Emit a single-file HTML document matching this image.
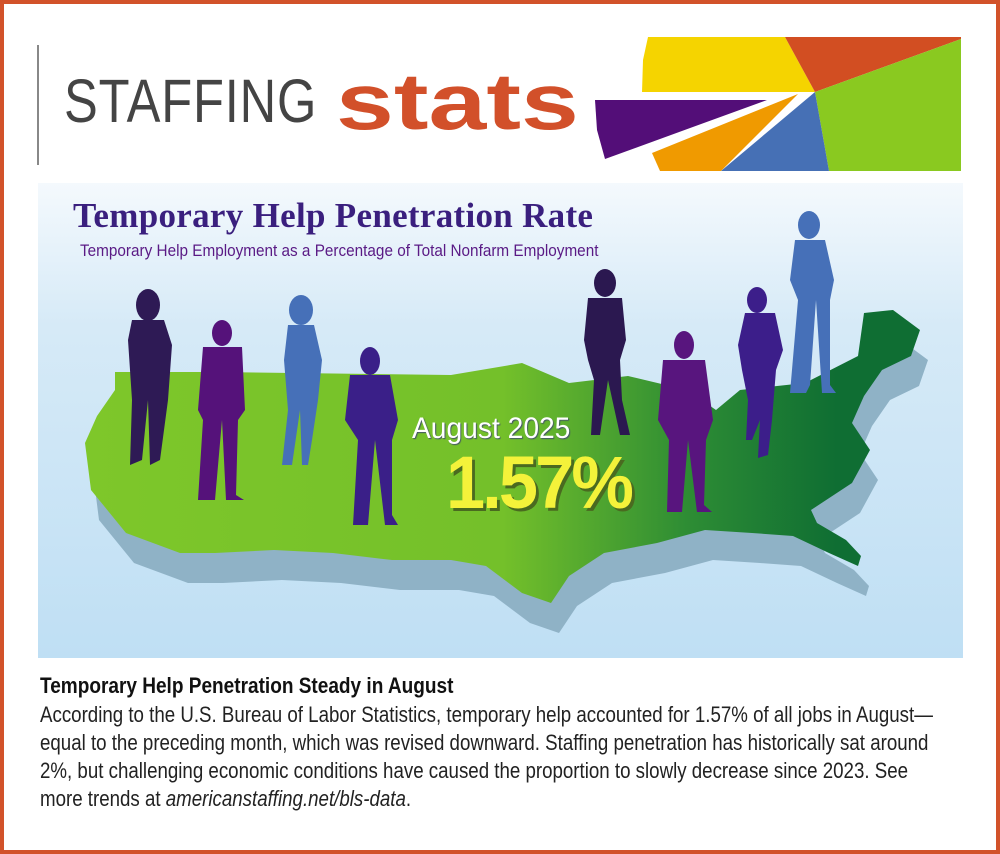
<!DOCTYPE html>
<html><head><meta charset="utf-8"><style>
body{margin:0;width:1000px;height:854px;overflow:hidden;background:#fff;font-family:"Liberation Sans",sans-serif}
.frame{position:absolute;left:0;top:0;width:1000px;height:854px;box-sizing:border-box;border:4px solid #d2522a}
.ln{position:absolute;left:40px;white-space:nowrap;font-size:22px;color:#222;transform:scaleX(0.85);transform-origin:left}
</style></head><body>
<div class="frame"></div>
<div style="position:absolute;left:37px;top:45px;width:2px;height:120px;background:#888"></div>
<div style="position:absolute;left:64px;top:66px;font-size:61px;color:#444;letter-spacing:1px;transform:scaleX(0.83);transform-origin:left;white-space:nowrap">STAFFING</div>
<div style="position:absolute;left:336px;top:56px;font-weight:bold;font-size:80px;color:#d2502a;transform:scaleX(1.3);transform-origin:left">stats</div>
<svg style="position:absolute;left:0;top:0" width="1000" height="854">
<polygon points="648,37 785,37 815,92 642,92 643,60" fill="#f5d400"/>
<polygon points="785,37 961,37 961,39 815,92" fill="#d24e22"/>
<polygon points="961,39 961,171 829,171 815,92" fill="#8ac920"/>
<polygon points="815,92 829,171 721,171" fill="#4670b5"/>
<polygon points="798,94 721,171 660,171 652,153" fill="#f09a00"/>
<polygon points="595,100 767,100 605,159 597,130" fill="#530e78"/>
<defs>
<linearGradient id="bg" x1="0" y1="0" x2="0" y2="1"><stop offset="0" stop-color="#f4f9fd"/><stop offset="0.3" stop-color="#d6eaf7"/><stop offset="1" stop-color="#bfdff4"/></linearGradient>
<linearGradient id="gr" x1="0" y1="0" x2="1" y2="0"><stop offset="0" stop-color="#7ec72a"/><stop offset="0.5" stop-color="#74c02a"/><stop offset="0.72" stop-color="#2e8d34"/><stop offset="0.9" stop-color="#0f6e33"/></linearGradient>
</defs>
<rect x="38" y="183" width="925" height="475" fill="url(#bg)"/>
<g id="map">
<polygon transform="translate(8,30)" fill="#8fb2c6" points="115,372 215,372 451,375 522,363 569,383 628,376 687,390 716,410 740,390 805,383 858,356 864,313 893,310 920,330 911,356 882,370 864,396 852,423 870,450 852,483 811,510 817,523 846,540 861,556 858,566 829,553 793,536 752,533 705,530 657,543 604,553 569,576 551,603 522,593 486,566 451,560 392,560 333,553 274,550 215,553 180,553 126,533 91,490 85,443 97,416 115,390"/>
<polygon fill="url(#gr)" points="115,372 215,372 451,375 522,363 569,383 628,376 687,390 716,410 740,390 805,383 858,356 864,313 893,310 920,330 911,356 882,370 864,396 852,423 870,450 852,483 811,510 817,523 846,540 861,556 858,566 829,553 793,536 752,533 705,530 657,543 604,553 569,576 551,603 522,593 486,566 451,560 392,560 333,553 274,550 215,553 180,553 126,533 91,490 85,443 97,416 115,390"/>
</g>
<g>
<g fill="#2e1a55"><ellipse cx="148" cy="305" rx="12" ry="16"/><path d="M132,320 L164,320 L172,345 L168,400 L160,460 L150,465 L148,400 L142,460 L130,465 L132,400 L128,340Z"/></g>
<g fill="#55127a"><ellipse cx="222" cy="333" rx="10" ry="13"/><path d="M203,347 L242,347 L245,410 L238,420 L236,495 L244,500 L226,500 L222,420 L215,500 L198,500 L203,420 L198,410Z"/></g>
<g fill="#4670b8"><ellipse cx="301" cy="310" rx="12" ry="15"/><path d="M288,325 L314,325 L322,360 L318,400 L312,440 L308,465 L302,465 L300,410 L292,465 L282,465 L288,410 L284,360Z"/></g>
<g fill="#3a1f88"><ellipse cx="370" cy="361" rx="10" ry="14"/><path d="M350,375 L390,375 L398,420 L392,440 L392,515 L398,525 L385,525 L375,440 L368,525 L353,525 L358,440 L345,420Z"/></g>
<g fill="#2b1850"><ellipse cx="605" cy="283" rx="11" ry="14"/><path d="M588,298 L622,298 L626,340 L620,360 L622,400 L630,435 L620,435 L608,380 L600,435 L591,435 L594,380 L588,360 L584,340Z"/></g>
<g fill="#58157e"><ellipse cx="684" cy="345" rx="10" ry="14"/><path d="M663,360 L705,360 L713,420 L706,440 L704,505 L712,512 L697,512 L688,440 L682,512 L667,512 L669,440 L658,420Z"/></g>
<g fill="#3c1e8a"><ellipse cx="757" cy="300" rx="10" ry="13"/><path d="M745,313 L775,313 L783,350 L776,370 L772,420 L768,455 L758,458 L760,420 L752,440 L746,440 L748,400 L742,370 L738,345Z"/></g>
<g fill="#4670b8"><ellipse cx="809" cy="225" rx="11" ry="14"/><path d="M795,240 L825,240 L834,280 L830,300 L830,385 L836,393 L822,393 L816,300 L810,385 L806,393 L790,393 L798,300 L790,280Z"/></g>
</g>
</svg>
<div style="position:absolute;left:73px;top:196px;font-family:'Liberation Serif',serif;font-weight:bold;font-size:35px;color:#3a1f7e;letter-spacing:0.3px;white-space:nowrap">Temporary Help Penetration Rate</div>
<div style="position:absolute;left:80px;top:241px;font-size:17px;color:#5a1a85;transform:scaleX(0.9);transform-origin:left;white-space:nowrap">Temporary Help Employment as a Percentage of Total Nonfarm Employment</div>
<div style="position:absolute;left:412px;top:412px;font-size:30px;color:#fff;text-shadow:1px 1px 1px #456;transform:scaleX(0.94);transform-origin:left;white-space:nowrap">August 2025</div>
<div style="position:absolute;left:446px;top:440px;font-weight:bold;font-size:74px;color:#f4f23a;letter-spacing:-3px;text-shadow:3px 3px 0 #4a6a20;transform:scaleX(0.95);transform-origin:left">1.57%</div>
<div style="position:absolute;left:40px;top:673px;font-weight:bold;font-size:22px;color:#111;white-space:nowrap;transform:scaleX(0.865);transform-origin:left">Temporary Help Penetration Steady in August</div>
<div class="ln" style="top:702px">According to the U.S. Bureau of Labor Statistics, temporary help accounted for 1.57% of all jobs in August—</div>
<div class="ln" style="top:730px">equal to the preceding month, which was revised downward. Staffing penetration has historically sat around</div>
<div class="ln" style="top:758px">2%, but challenging economic conditions have caused the proportion to slowly decrease since 2023. See</div>
<div class="ln" style="top:786px">more trends at <i>americanstaffing.net/bls-data</i>.</div>
</body></html>
